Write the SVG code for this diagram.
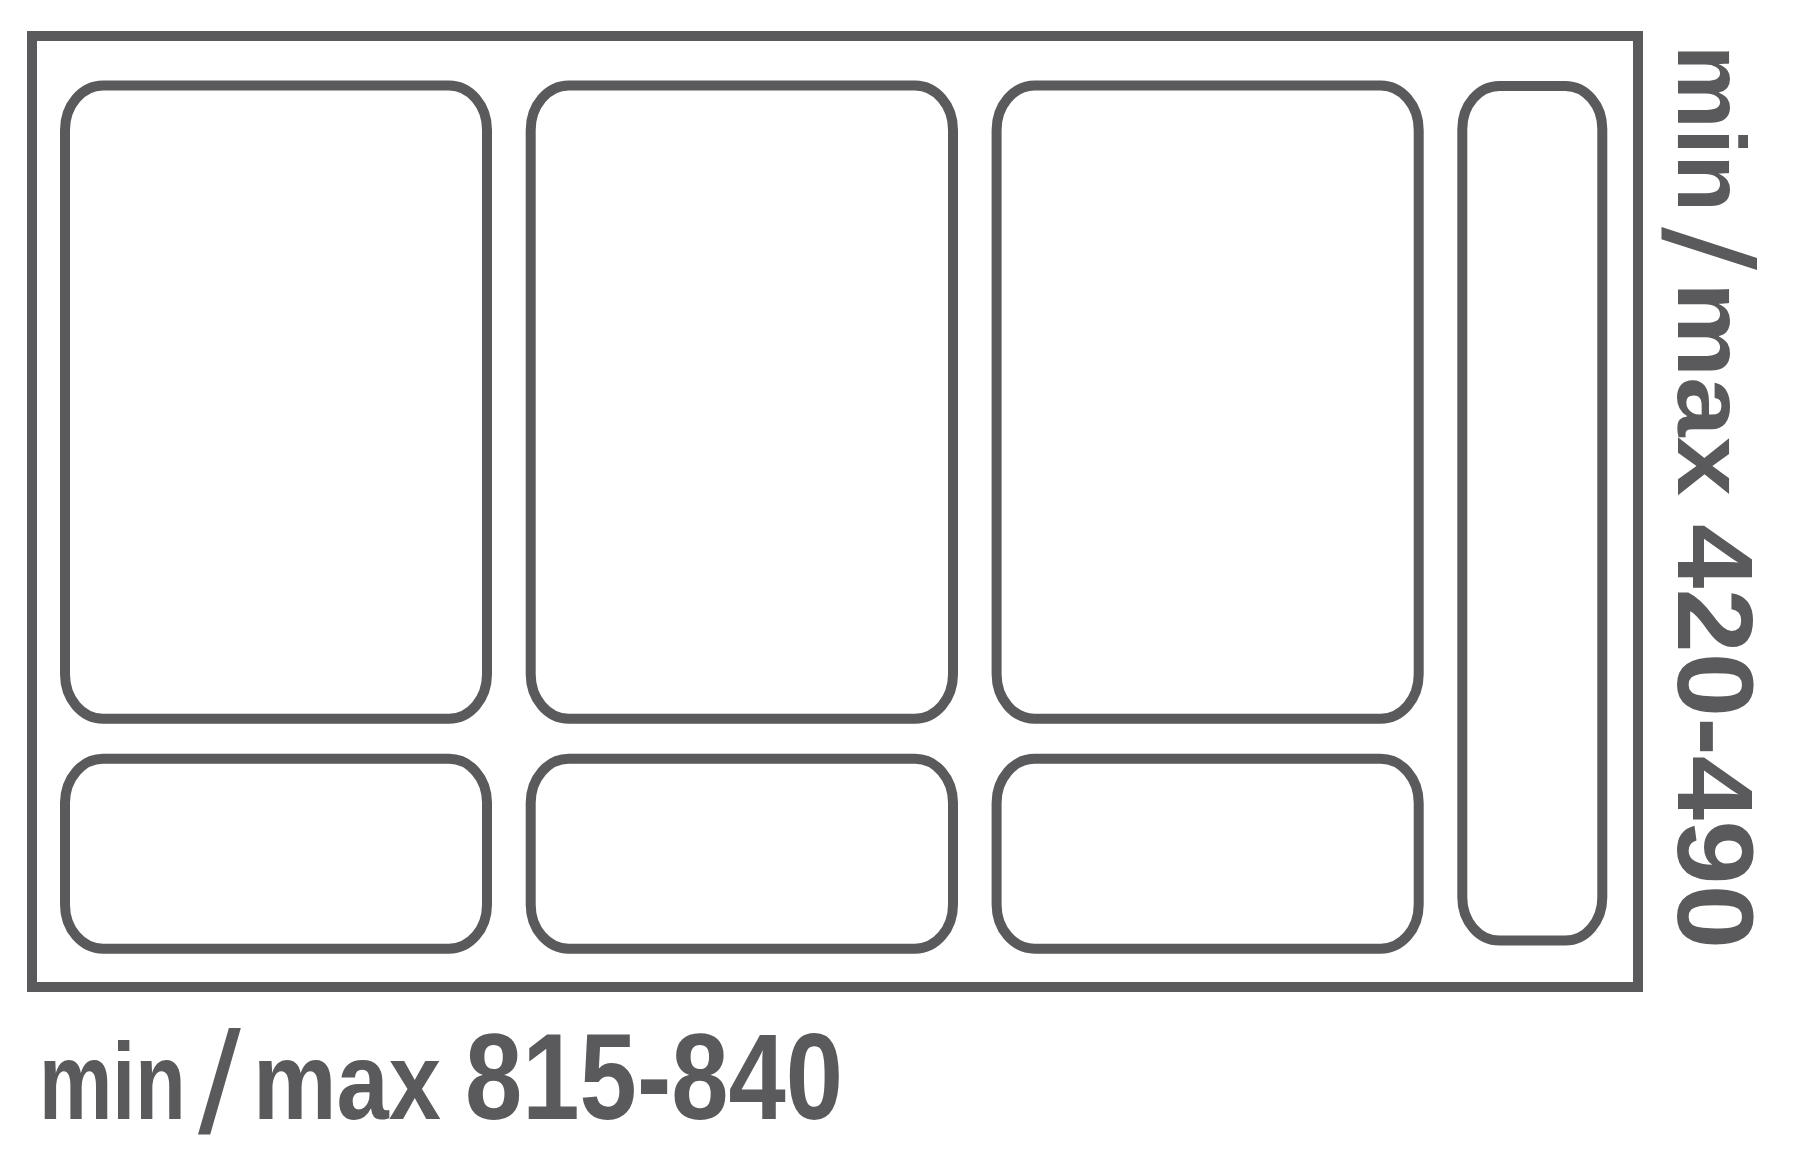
<svg xmlns="http://www.w3.org/2000/svg" width="1800" height="1171" viewBox="0 0 1800 1171">
<style>
.frame{fill:none;stroke:#5a5a5c;stroke-width:10}
.bin{fill:none;stroke:#5a5a5c;stroke-width:10}
.lbl{font-family:"Liberation Sans",Arial,sans-serif;font-weight:bold;fill:#5a5a5c}
.sl{font-family:"Liberation Sans",Arial,sans-serif;font-weight:normal;fill:#5a5a5c}
</style>
<rect width="1800" height="1171" fill="#ffffff"/>
<g id="tray">
<rect class="frame" x="32" y="36" width="1606" height="951"/>
</g>
<g id="bin-top-1"><rect class="bin" x="65" y="85.5" width="422" height="633.2" rx="38" ry="44.5"/></g>
<g id="bin-top-2"><rect class="bin" x="530.7" y="85.5" width="422.3" height="633.2" rx="38" ry="44.5"/></g>
<g id="bin-top-3"><rect class="bin" x="996.6" y="85.5" width="422.1" height="633.2" rx="38" ry="44.5"/></g>
<g id="bin-bottom-1"><rect class="bin" x="65" y="758.8" width="422" height="189.9" rx="38" ry="44"/></g>
<g id="bin-bottom-2"><rect class="bin" x="530.7" y="758.8" width="422.3" height="189.9" rx="38" ry="44"/></g>
<g id="bin-bottom-3"><rect class="bin" x="996.6" y="758.8" width="422.1" height="189.9" rx="38" ry="44"/></g>
<g id="bin-narrow"><rect class="bin" x="1462.3" y="86" width="140" height="854.5" rx="37" ry="43"/></g>
<g id="connectors"></g>
<g id="label-width">
<text class="lbl" transform="translate(39,1119) scale(0.75,1)" font-size="110">min</text>
<text class="sl" transform="translate(198,1133) scale(1.07,1)" font-size="144">/</text>
<text class="lbl" transform="translate(253,1119) scale(0.854,1)" font-size="110">max</text>
<text class="lbl" transform="translate(465,1119) scale(0.8445,1)" font-size="122">815-840</text>
</g>
<g id="label-depth" transform="translate(1678,0) rotate(90)">
<text class="lbl" transform="translate(45,0) scale(0.978,1)" font-size="96">min</text>
<text class="sl" transform="translate(227,15) scale(1.19,1)" font-size="130">/</text>
<text class="lbl" transform="translate(282,0) scale(1.114,1)" font-size="96">max</text>
<text class="lbl" transform="translate(524,0) scale(1.0825,1)" font-size="107">420-490</text>
</g>
</svg>
